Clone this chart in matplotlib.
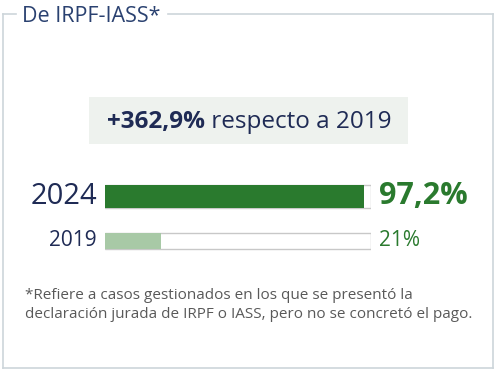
import matplotlib
matplotlib.use("Agg")
from matplotlib import pyplot as plt
from matplotlib.patches import Rectangle

plt.rcParams['font.family'] = ['Open Sans', 'DejaVu Sans']

years = ["2024", "2019"]
values = [97.2, 21.0]
value_labels = ["97,2%", "21%"]
title = "De IRPF-IASS*"
highlight = "+362,9%"
highlight_rest = " respecto a 2019"
footnote = ("*Refiere a casos gestionados en los que se presentó la\n"
            "declaración jurada de IRPF o IASS, pero no se concretó el pago.")

W, H = 497, 371
NAVY = "#1f2b55"
GREEN = "#2a7a2e"
LIGHT_GREEN = "#a8c9a6"
GRAY_TEXT = "#595959"
BORDER = "#cdd5da"


def fx(px):
    return px / W


def fy(py):
    return 1 - py / H


fig = plt.figure(figsize=(W / 100, H / 100), dpi=100)
fig.patch.set_facecolor("white")

# frame with title gap
frame = dict(color=BORDER, lw=1.2, transform=fig.transFigure)
fig.add_artist(plt.Line2D([fx(3), fx(16)], [fy(14), fy(14)], **frame))
fig.add_artist(plt.Line2D([fx(168), fx(493)], [fy(14), fy(14)], **frame))
fig.add_artist(plt.Line2D([fx(3), fx(3)], [fy(14), fy(368)], **frame))
fig.add_artist(plt.Line2D([fx(493), fx(493)], [fy(14), fy(368)], **frame))
fig.add_artist(plt.Line2D([fx(3), fx(493)], [fy(368), fy(368)], **frame))
fig.text(fx(22), fy(17), title, fontsize=15.5, color="#2a4170", va="center", ha="left")

# highlight box
fig.add_artist(Rectangle((fx(89), fy(144)), fx(408) - fx(89), fy(97) - fy(144),
                         transform=fig.transFigure, facecolor="#eef2ee", edgecolor="none"))
t1 = fig.text(fx(107), fy(122), highlight, fontsize=17.5, fontweight="bold",
              color=NAVY, va="center", ha="left")
fig.canvas.draw()
bb = t1.get_window_extent()
fig.text(bb.x1 / fig.dpi / fig.get_figwidth(), fy(122), highlight_rest, fontsize=17.5,
         color=NAVY, va="center", ha="left")

# bars
ax = fig.add_axes([fx(105), fy(256), fx(371) - fx(105), (256 - 180) / H])
ypos = [196.5, 241]
heights = [23, 16]
ax.barh(ypos, [100, 100], height=heights, color="white", edgecolor="#c8c8c8", linewidth=1)
ax.barh(ypos, values, height=heights, color=[GREEN, LIGHT_GREEN], edgecolor="none")
ax.set_xlim(0, 100)
ax.set_ylim(256, 180)
ax.axis("off")

label_sizes = [21, 15]
value_sizes = [22, 15]
value_weights = ["bold", "normal"]
for y, yr, lab, fs, vs, wt in zip(ypos, years, value_labels, label_sizes, value_sizes, value_weights):
    fig.text(fx(97), fy(y), yr, fontsize=fs, color=NAVY, va="center", ha="right")
    fig.text(fx(379), fy(y), lab, fontsize=vs, color=GREEN, fontweight=wt,
             va="center", ha="left")

fig.text(fx(25), fy(305), footnote, fontsize=11.0, color=GRAY_TEXT, va="center",
         ha="left", linespacing=1.3)

fig.savefig("out.png", dpi=100)
